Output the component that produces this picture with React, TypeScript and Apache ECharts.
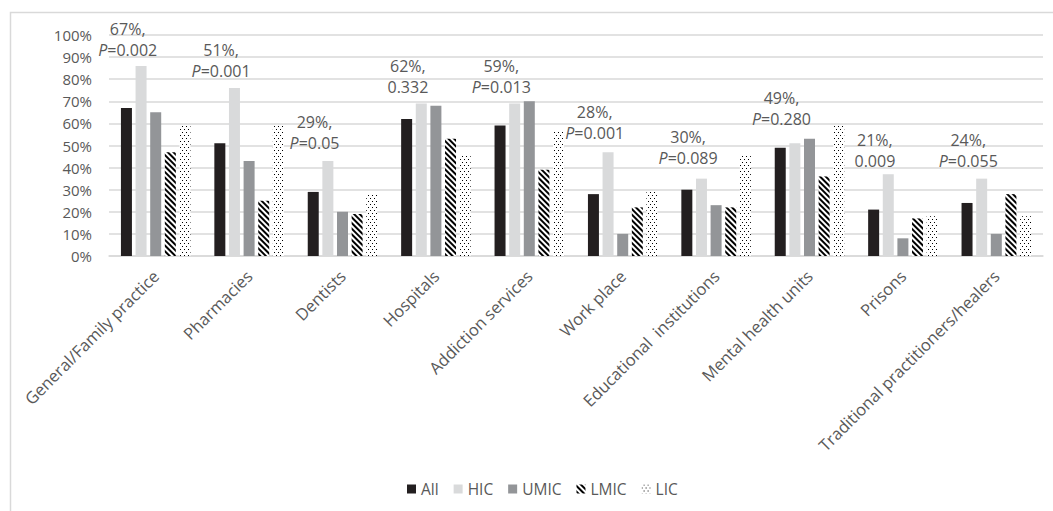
import React, { useEffect, useRef } from "react";
import * as echarts from "echarts";

const categories = [
  "General/Family practice",
  "Pharmacies",
  "Dentists",
  "Hospitals",
  "Addiction services",
  "Work place",
  "Educational  institutions",
  "Mental health units",
  "Prisons",
  "Traditional practitioners/healers",
];
const seriesNames = ["All", "HIC", "UMIC", "LMIC", "LIC"];
const allValues = [67, 51, 29, 62, 59, 28, 30, 49, 21, 24];
const hicValues = [86, 76, 43, 69, 69, 47, 35, 51, 37, 35];
const umicValues = [65, 43, 20, 68, 70, 10, 23, 53, 8, 10];
const lmicValues = [47, 25, 19, 53, 39, 22, 22, 36, 17, 28];
const licValues = [59, 59, 28, 46, 57, 29, 46, 59, 18, 18];
const pValues = ["0.002", "0.001", "0.05", "0.332", "0.013", "0.001", "0.089", "0.280", "0.009", "0.055"];
const pPrefixed = [true, true, true, false, true, true, true, true, false, true];
const yTicks = [0, 10, 20, 30, 40, 50, 60, 70, 80, 90, 100];

const FONT = "'Open Sans', sans-serif";
const TEXT = "#595959";
const GRID = "#d9d9d9";

export default function App() {
  const ref = useRef<HTMLDivElement>(null);
  useEffect(() => {
    const chart = echarts.init(ref.current!, null, { renderer: "svg" });
    const values = [allValues, hicValues, umicValues, lmicValues, licValues];
    const colors = ["#231F20", "#D9DADB", "#939598", "#ffffff", "#ffffff"];
    const plain = {
      symbol: "rect",
      symbolSize: 1,
      dashArrayX: [1, 0],
      dashArrayY: [1, 0],
      color: "rgba(0,0,0,0)",
    };
    const decals: any[] = [
      plain,
      plain,
      plain,
      {
        symbol: "rect",
        symbolSize: 1,
        dashArrayX: [1, 0],
        dashArrayY: [2, 2],
        rotation: Math.PI / 4,
        color: "#000000",
      },
      {
        symbol: "rect",
        symbolSize: 1,
        dashArrayX: [[1, 3], [0, 2, 1, 1]],
        dashArrayY: [1, 1.5],
        rotation: 0,
        color: "#000000",
      },
    ];
    chart.setOption({
      animation: false,
      aria: { enabled: true, decal: { show: true } },
      grid: { left: 109, right: 10, top: 35, bottom: 255, containLabel: false },
      legend: {
        data: seriesNames,
        left: 402,
        top: 476,
        itemWidth: 9,
        itemHeight: 9,
        itemGap: 15,
        icon: "rect",
        textStyle: { fontFamily: FONT, fontSize: 15.5, color: TEXT },
      },
      xAxis: {
        type: "category",
        data: categories,
        axisTick: { show: false },
        axisLine: { show: true, lineStyle: { color: GRID, width: 1.5 } },
        axisLabel: {
          interval: 0,
          rotate: 45,
          margin: 17,
          fontFamily: FONT,
          fontSize: 16.5,
          color: TEXT,
        },
      },
      yAxis: {
        type: "value",
        min: yTicks[0],
        max: yTicks[yTicks.length - 1],
        interval: 10,
        axisLine: { show: false },
        axisTick: { show: false },
        splitLine: { lineStyle: { color: GRID, width: 1.5 } },
        axisLabel: {
          formatter: "{value}%",
          margin: 17,
          fontFamily: FONT,
          fontSize: 15,
          color: TEXT,
        },
      },
      series: seriesNames.map((name, k) => ({
        name,
        type: "bar",
        data: values[k],
        barWidth: 11,
        barGap: "33%",
        itemStyle: { color: colors[k], decal: decals[k] },
        emphasis: { disabled: true },
      })),
    });

    const line2Y = [50, 71, 143, 87, 87, 133, 158, 119, 161, 161];
    const graphics: any[] = [
      {
        type: "rect",
        shape: { x: 10.5, y: 12.5, width: 1200, height: 700 },
        style: { fill: "none", stroke: GRID, lineWidth: 1.5 },
        silent: true,
        z: -10,
      },
    ];
    categories.forEach((_, i) => {
      const cx = (chart.convertToPixel({ xAxisIndex: 0 }, i) as number) - 28;
      graphics.push({
        type: "text",
        x: cx,
        y: line2Y[i] - 21.5,
        style: {
          text: `${allValues[i]}%,`,
          fontFamily: FONT,
          fontSize: 16,
          fill: TEXT,
          align: "center",
          verticalAlign: "middle",
        },
      });
      graphics.push({
        type: "text",
        x: cx,
        y: line2Y[i],
        style: {
          text: pPrefixed[i] ? `{i|P}{n|=${pValues[i]}}` : `{n|${pValues[i]}}`,
          fontFamily: FONT,
          fontSize: 16,
          fill: TEXT,
          align: "center",
          verticalAlign: "middle",
          rich: {
            i: { fontFamily: FONT, fontSize: 16, fill: TEXT, fontStyle: "italic" },
            n: { fontFamily: FONT, fontSize: 16, fill: TEXT },
          },
        },
      });
    });
    chart.setOption({ graphic: graphics });
    return () => chart.dispose();
  }, []);
  return (
    <div
      ref={ref}
      style={{ position: "absolute", left: 0, top: 0, width: 1053, height: 511, background: "#fff" }}
    />
  );
}
